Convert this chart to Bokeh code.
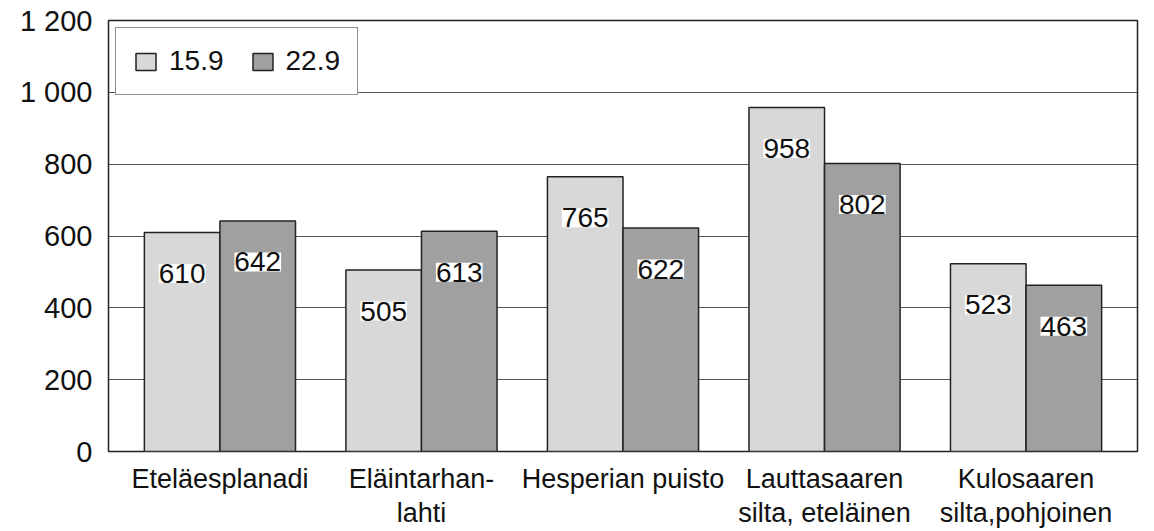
import numpy as np
from bokeh.plotting import figure
from bokeh.models import ColumnDataSource, LabelSet, Range1d, FixedTicker, Legend, LegendItem
from bokeh.core.properties import value
from bokeh.embed import file_html
from bokeh.resources import INLINE

categories = ["Eteläesplanadi", "Eläintarhan-\nlahti", "Hesperian puisto",
              "Lauttasaaren\nsilta, eteläinen", "Kulosaaren\nsilta,pohjoinen"]
series_names = ["15.9", "22.9"]
values_159 = [610, 505, 765, 958, 523]
values_229 = [642, 613, 622, 802, 463]
y_ticks = [0, 200, 400, 600, 800, 1000, 1200]
y_tick_labels = ["0", "200", "400", "600", "800", "1 000", "1 200"]

FONT = "Liberation Sans"
LIGHT = "#d8d8d8"
DARK = "#a0a0a0"
BAR_W = 0.375
OFF = BAR_W / 2

idx = np.arange(len(categories))

p = figure(width=1146, height=531, output_backend="svg", toolbar_location=None,
           x_range=Range1d(-0.553, len(categories) - 1 + 0.553),
           y_range=Range1d(0, 1200),
           min_border_left=108, min_border_right=9, min_border_top=20, min_border_bottom=78)

p.background_fill_color = "white"
p.border_fill_color = "white"
p.outline_line_color = "#222222"
p.outline_line_width = 1.5

src1 = ColumnDataSource(dict(x=idx - OFF, top=values_159, lab=[str(v) for v in values_159]))
src2 = ColumnDataSource(dict(x=idx + OFF, top=values_229, lab=[str(v) for v in values_229]))

r1 = p.vbar(x="x", top="top", width=BAR_W, source=src1, fill_color=LIGHT,
            line_color="#222222", line_width=1.5)
r2 = p.vbar(x="x", top="top", width=BAR_W, source=src2, fill_color=DARK,
            line_color="#222222", line_width=1.5)

for s in (src1, src2):
    ls = LabelSet(x="x", y="top", text="lab", source=s, y_offset=-41,
                  text_align="center", text_baseline="middle",
                  text_font=value(FONT), text_font_size=value("28px"), text_color="#111111",
                  background_fill_color="white", background_fill_alpha=1.0)
    p.add_layout(ls)

# axes
p.xaxis.ticker = FixedTicker(ticks=list(idx))
p.xaxis.major_label_overrides = {int(i): c for i, c in zip(idx, categories)}
p.xaxis.major_label_text_font = FONT
p.xaxis.major_label_text_font_size = "27px"
p.xaxis.major_label_text_line_height = 1.15
p.xaxis.major_label_text_align = "left"
p.xaxis.major_label_text_color = "#111111"
p.xaxis.major_label_standoff = 12
p.xaxis.major_tick_out = 0
p.xaxis.major_tick_in = 0
p.xaxis.major_tick_line_color = None
p.xaxis.minor_tick_line_color = None
p.xaxis.axis_line_color = None

p.yaxis.ticker = FixedTicker(ticks=y_ticks)
p.yaxis.major_label_overrides = {t: l for t, l in zip(y_ticks, y_tick_labels)}
p.yaxis.major_label_text_font = FONT
p.yaxis.major_label_text_font_size = "29px"
p.yaxis.major_label_text_color = "#111111"
p.yaxis.major_label_standoff = 16
p.yaxis.major_tick_out = 0
p.yaxis.major_tick_in = 0
p.yaxis.major_tick_line_color = None
p.yaxis.minor_tick_line_color = None
p.yaxis.axis_line_color = None

p.xgrid.grid_line_color = None
p.ygrid.grid_line_color = "#555555"
p.ygrid.grid_line_width = 1

legend = Legend(items=[LegendItem(label=series_names[0], renderers=[r1]),
                       LegendItem(label=series_names[1], renderers=[r2])],
                location="top_left", orientation="horizontal",
                margin=7, padding=17, spacing=26, label_standoff=11,
                glyph_width=25, glyph_height=21,
                label_text_font=FONT, label_text_font_size="28px",
                label_text_color="#111111",
                border_line_color="#222222", border_line_width=1.5,
                background_fill_color="white", background_fill_alpha=1.0)
p.add_layout(legend)

open("out.html", "w").write(file_html(p, INLINE))
